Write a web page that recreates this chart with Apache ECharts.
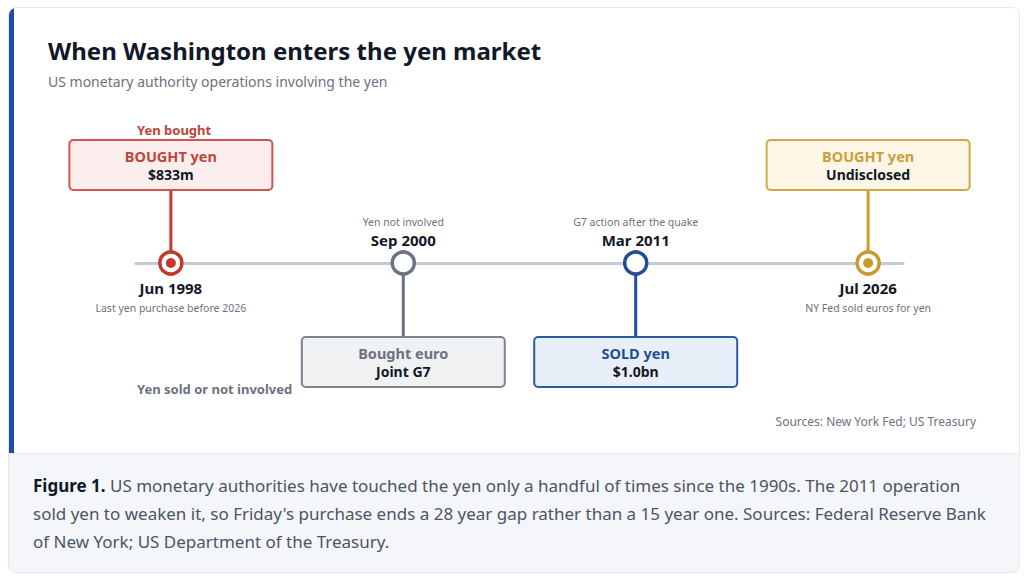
<!DOCTYPE html>
<html>
<head>
<meta charset="utf-8">
<script src="https://cdn.jsdelivr.net/npm/echarts@6/dist/echarts.min.js"></script>
<style>
	html, body { margin:0; padding:0; background:#fff; }
	#card {
		position:absolute; left:8px; top:7px; width:1010px; height:564px;
		border:1px solid #e4e7ec; border-radius:8px; overflow:hidden; background:#fff;
	}
	#top { position:absolute; left:0; top:0; width:1010px; height:445px; background:#fff; border-left:5px solid #1f4e9a; box-sizing:border-box; }
	#caption {
		position:absolute; left:0; top:445px; width:1010px; height:119px; background:#f4f6fa;
		border-top:1px solid #e8ebf0; box-sizing:border-box;
		padding:18px 24px 0 24px; font-family:"Noto Sans", sans-serif; font-size:17px; line-height:28px; color:#4b5563;
	}
	#caption b { color:#111827; }
	#main { position:absolute; left:0; top:0; width:1024px; height:452px; }
</style>
</head>
<body>
<div id="card">
	<div id="top"></div>
	<div id="caption"><b>Figure 1.</b> US monetary authorities have touched the yen only a handful of times since the 1990s. The 2011 operation<br>sold yen to weaken it, so Friday's purchase ends a 28 year gap rather than a 15 year one. Sources: Federal Reserve Bank<br>of New York; US Department of the Treasury.</div>
</div>
<div id="main"></div>
<script>
//时间轴数据
var dates = ['Jun 1998', 'Sep 2000', 'Mar 2011', 'Jul 2026'];
var notes = ['Last yen purchase before 2026', 'Yen not involved', 'G7 action after the quake', 'NY Fed sold euros for yen'];
var actions = ['BOUGHT yen', 'Bought euro', 'SOLD yen', 'BOUGHT yen'];
var amounts = ['$833m', 'Joint G7', '$1.0bn', 'Undisclosed'];
var sides = [1, -1, -1, 1]; // 1 = 框在上方
var kinds = ['bought', 'other', 'sold', 'latest'];

var palette = {
	bought: {line:'#c0392b', border:'#cf5550', fill:'#fdeeee', text:'#c0443c', dot:true},
	other:  {line:'#6b7280', border:'#7c838e', fill:'#f0f1f3', text:'#6b7280', dot:false},
	sold:   {line:'#1f4e96', border:'#2b5ba3', fill:'#e9eff8', text:'#1f4e96', dot:false},
	latest: {line:'#c99a2e', border:'#d1a845', fill:'#fcf6e7', text:'#c9a03a', dot:true}
};

var FONT = '"Noto Sans", sans-serif';

function renderEvent(params, api) {
	var i = api.value(0);
	var p = api.coord([i, 0]);
	var c = palette[kinds[i]];
	var up = sides[i] === 1;
	var bw = 203, bh = 50, r = 11;
	var boxTop = up ? p[1] - 123 : p[1] + 74;
	var children = [];
	// 连接线
	children.push({
		type:'line',
		shape:{x1:p[0], y1:up ? boxTop + bh : p[1], x2:p[0], y2:up ? p[1] : boxTop},
		style:{stroke:c.line, lineWidth:3}
	});
	// 说明框
	children.push({
		type:'rect',
		shape:{x:p[0] - bw / 2, y:boxTop, width:bw, height:bh, r:4},
		style:{fill:c.fill, stroke:c.border, lineWidth:2}
	});
	children.push({
		type:'text',
		style:{x:p[0], y:boxTop + 16, text:actions[i], align:'center', verticalAlign:'middle',
			fill:c.text, font:'bold 14.5px ' + FONT}
	});
	children.push({
		type:'text',
		style:{x:p[0], y:boxTop + 34, text:amounts[i], align:'center', verticalAlign:'middle',
			fill:'#111827', font:'bold 14px ' + FONT}
	});
	// 圆点
	children.push({
		type:'circle',
		shape:{cx:p[0], cy:p[1], r:r},
		style:{fill:'#fff', stroke:c.line, lineWidth:3.5}
	});
	if (c.dot) {
		children.push({
			type:'circle',
			shape:{cx:p[0], cy:p[1], r:5},
			style:{fill:c.line}
		});
	}
	// 日期与备注
	var dateY = up ? p[1] + 25 : p[1] - 23;
	var noteY = up ? p[1] + 45 : p[1] - 41;
	children.push({
		type:'text',
		style:{x:p[0], y:dateY, text:dates[i], align:'center', verticalAlign:'middle',
			fill:'#111827', font:'bold 15px ' + FONT}
	});
	children.push({
		type:'text',
		style:{x:p[0], y:noteY, text:notes[i], align:'center', verticalAlign:'middle',
			fill:'#6b7280', font:'10.5px ' + FONT}
	});
	return {type:'group', children:children};
}

var chart = echarts.init(document.getElementById('main'), null, {renderer:'svg'});
chart.setOption({
	animation:false,
	title:{
		text:'When Washington enters the yen market',
		subtext:'US monetary authority operations involving the yen',
		left:43, top:33, itemGap:12,
		textStyle:{fontFamily:FONT, fontSize:24, fontWeight:'bold', color:'#111827'},
		subtextStyle:{fontFamily:FONT, fontSize:14, color:'#6b7280'}
	},
	grid:{left:136, right:121, top:163, height:200},
	xAxis:{
		type:'value', min:-0.15, max:3.15,
		axisLine:{show:true, onZero:true, lineStyle:{color:'#c3cad4', width:3}},
		axisTick:{show:false}, axisLabel:{show:false}, splitLine:{show:false}
	},
	yAxis:{
		type:'value', min:-1, max:1, show:false
	},
	graphic:[
		{type:'text', left:137, top:123, style:{text:'Yen bought', fill:'#c0443c', font:'bold 13px ' + FONT}},
		{type:'text', left:137, top:382, style:{text:'Yen sold or not involved', fill:'#6b7280', font:'bold 13px ' + FONT}},
		{type:'text', right:48, top:415, style:{text:'Sources: New York Fed; US Treasury', fill:'#6b7280', font:'12px ' + FONT}}
	],
	series:[{
		type:'custom',
		renderItem:renderEvent,
		data:dates.map(function(d, i){ return [i, 0]; })
	}]
});
</script>
</body>
</html>
